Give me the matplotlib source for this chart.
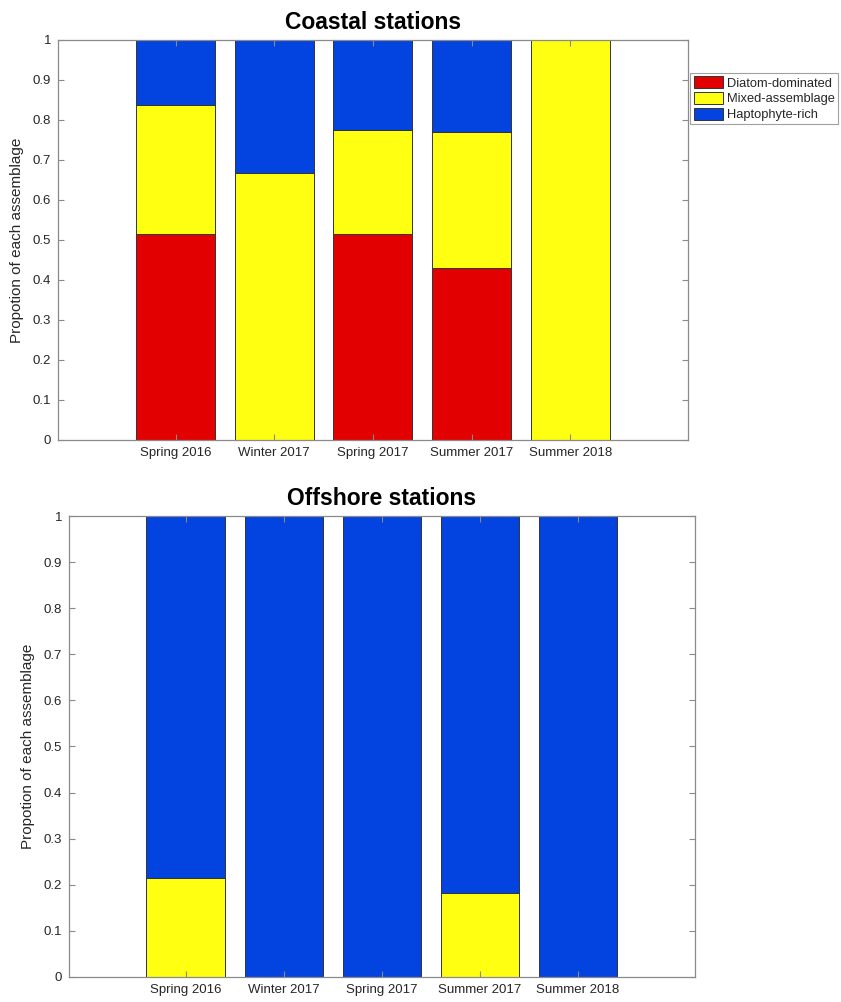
import matplotlib
matplotlib.use("Agg")
import matplotlib.pyplot as plt
import numpy as np

categories = ["Spring 2016", "Winter 2017", "Spring 2017", "Summer 2017", "Summer 2018"]
series_names = ["Diatom-dominated", "Mixed-assemblage", "Haptophyte-rich"]

coastal_diatom = [0.516, 0.0, 0.516, 0.429, 0.0]
coastal_mixed = [0.322, 0.667, 0.258, 0.342, 1.0]
coastal_hapto = [0.162, 0.333, 0.226, 0.229, 0.0]

offshore_diatom = [0.0, 0.0, 0.0, 0.0, 0.0]
offshore_mixed = [0.214, 0.0, 0.0, 0.182, 0.0]
offshore_hapto = [0.786, 1.0, 1.0, 0.818, 1.0]

colors = ["#e30000", "#ffff11", "#0343df"]
axis_col = "#8a8a8a"
text_col = "#262626"

plt.rcParams['font.family'] = ['Liberation Sans', 'DejaVu Sans']

fig = plt.figure(figsize=(8.41, 10.02), dpi=100)
ax1 = fig.add_axes([0.069, 0.5609, 0.749, 0.3992])
ax2 = fig.add_axes([0.082, 0.0250, 0.744, 0.4600])


def draw(ax, d, m, h, title):
    x = np.arange(1, len(categories) + 1)
    bottom = np.zeros(len(categories))
    handles = []
    for vals, col, name in zip([d, m, h], colors, series_names):
        vals = np.array(vals)
        bars = ax.bar(x, vals, 0.8, bottom=bottom, color=col, edgecolor="#333333",
                      linewidth=0.7, label=name)
        handles.append(bars)
        bottom = bottom + vals
    ax.set_xlim(-0.19, 6.19)
    ax.set_ylim(0, 1)
    ax.set_xticks(x)
    ax.set_xticklabels(categories, fontsize=9.5, color=text_col)
    ax.set_yticks(np.arange(0, 1.01, 0.1))
    ax.set_yticklabels(["0", "0.1", "0.2", "0.3", "0.4", "0.5", "0.6", "0.7", "0.8", "0.9", "1"],
                       fontsize=9.5, color=text_col)
    ax.tick_params(direction='in', top=True, right=True, length=4, width=0.8,
                   colors=axis_col, labelcolor=text_col, pad=5)
    for s in ax.spines.values():
        s.set_color(axis_col)
        s.set_linewidth(0.9)
    ax.set_ylabel("Propotion of each assemblage", fontsize=11, color=text_col, labelpad=6)
    ax.set_title(title, fontsize=16.5, fontweight='bold', color='black', pad=8)
    return handles


h = draw(ax1, coastal_diatom, coastal_mixed, coastal_hapto, "Coastal stations")
draw(ax2, offshore_diatom, offshore_mixed, offshore_hapto, "Offshore stations")

leg = ax1.legend(h, series_names, loc='upper left', bbox_to_anchor=(1.004, 0.917),
                 fontsize=9.3, frameon=True, fancybox=False, borderaxespad=0,
                 handlelength=2.3, handleheight=1.0, handletextpad=0.25,
                 labelspacing=0.2, borderpad=0.25)
leg.get_frame().set_edgecolor(axis_col)
leg.get_frame().set_linewidth(0.8)
for t in leg.get_texts():
    t.set_color(text_col)

fig.savefig("out.png", dpi=100)
